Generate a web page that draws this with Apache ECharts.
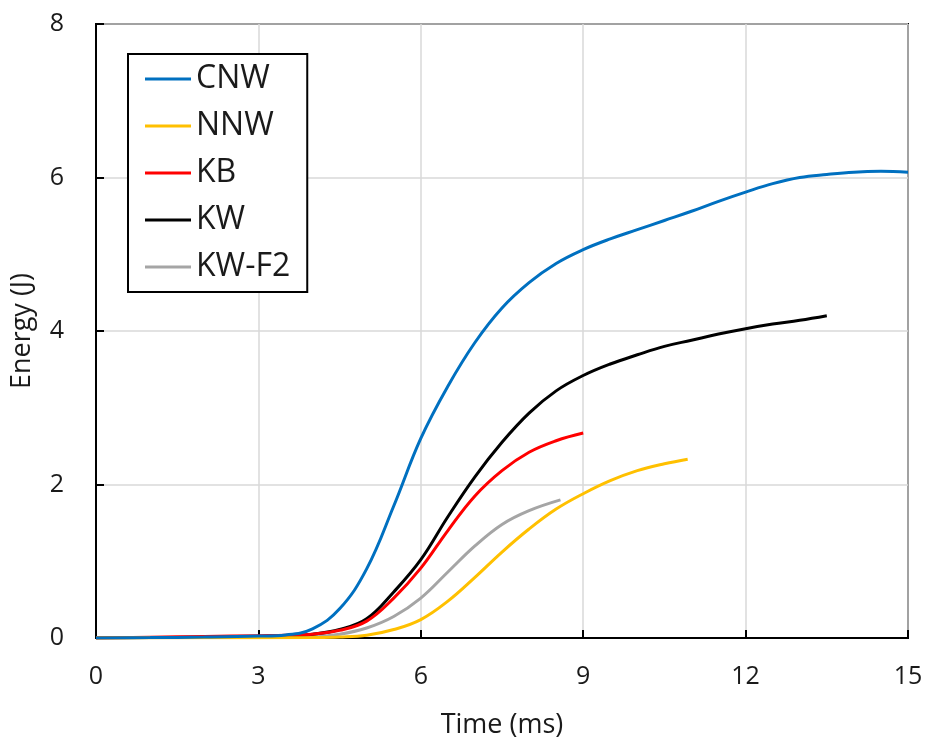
<!DOCTYPE html>
<html><head><meta charset="utf-8">
<script src="https://cdn.jsdelivr.net/npm/echarts@6/dist/echarts.min.js"></script>
<style>html,body{margin:0;padding:0;background:#fff}#c{width:927px;height:744px}</style>
</head><body><div id="c"></div>
<script>
const seriesNames = ['CNW','NNW','KB','KW','KW-F2'];
const seriesColors = ['#0070C0','#FFC000','#FF0000','#000000','#A5A5A5'];
const xTicks = [0,3,6,9,12,15];
const yTicks = [0,2,4,6,8];

const CNW = [[0,0],[1,0.005],[2,0.012],[3,0.025],[3.5,0.04],[4.0,0.12],[4.5,0.38],[5.0,0.9],[5.5,1.72],[6.0,2.6],[6.5,3.28],[7.0,3.85],[7.5,4.3],[8.0,4.63],[8.5,4.88],[9.0,5.06],[9.5,5.2],[10,5.32],[10.5,5.44],[11,5.56],[11.5,5.69],[12,5.81],[12.5,5.92],[13,6.0],[13.5,6.04],[14,6.07],[14.5,6.08],[15,6.07]];
const NNW = [[0,0],[2,0.003],[4,0.006],[4.5,0.012],[5.0,0.035],[5.5,0.11],[6.0,0.24],[6.5,0.48],[7.0,0.79],[7.5,1.12],[8.0,1.42],[8.5,1.68],[9.0,1.88],[9.5,2.05],[10,2.18],[10.5,2.27],[10.93,2.33]];
const KB = [[0,0],[1,0.01],[2,0.02],[3,0.03],[3.5,0.035],[4.0,0.05],[4.5,0.1],[5.0,0.22],[5.5,0.52],[6.0,0.91],[6.5,1.4],[7.0,1.85],[7.5,2.18],[8.0,2.42],[8.5,2.57],[9.0,2.67]];
const KW = [[0,0],[1,0.005],[2,0.01],[3,0.02],[3.5,0.03],[4.0,0.05],[4.5,0.11],[5.0,0.25],[5.5,0.6],[6.0,1.02],[6.5,1.58],[7.0,2.1],[7.5,2.55],[8.0,2.93],[8.5,3.22],[9.0,3.42],[9.5,3.57],[10,3.69],[10.5,3.8],[11,3.88],[11.5,3.96],[12,4.03],[12.5,4.09],[13,4.14],[13.5,4.2]];
const KWF2 = [[0,0],[3,0.01],[3.5,0.015],[4.0,0.02],[4.5,0.05],[5.0,0.13],[5.5,0.28],[6.0,0.52],[6.5,0.86],[7.0,1.2],[7.5,1.48],[8.0,1.66],[8.58,1.8]];

const seriesData = [CNW, NNW, KB, KW, KWF2];
const FONT = '"Open Sans", sans-serif';
const TXT = '#1a1a1a';

const chart = echarts.init(document.getElementById('c'), null, {renderer:'canvas'});
chart.setOption({
  animation:false,
  backgroundColor:'#fff',
  grid:{left:96,right:19,top:24,bottom:104,show:true,borderColor:'#000',borderWidth:2,backgroundColor:'transparent'},
  legend:{
    orient:'vertical', left:128, top:54,
    data:seriesNames,
    icon:'rect', itemWidth:46, itemHeight:3, itemGap:11,
    padding:[7,17,7,17],
    borderColor:'#000', borderWidth:2, backgroundColor:'#fff',
    textStyle:{fontFamily:FONT,fontSize:32,color:TXT,lineHeight:36}
  },
  xAxis:{
    type:'value', min:xTicks[0], max:xTicks[xTicks.length-1], interval:3,
    axisLine:{show:true,onZero:false,lineStyle:{color:'#000',width:2}},
    axisTick:{show:true,inside:true,length:8,lineStyle:{color:'#000',width:2}},
    axisLabel:{fontFamily:FONT,fontSize:25,color:TXT,margin:26},
    splitLine:{show:true,lineStyle:{color:'#d9d9d9',width:1.5}},
    name:'Time (ms)', nameLocation:'middle', nameGap:74,
    nameTextStyle:{fontFamily:FONT,fontSize:27,color:TXT}
  },
  yAxis:{
    type:'value', min:yTicks[0], max:yTicks[yTicks.length-1], interval:2,
    axisLine:{show:true,lineStyle:{color:'#000',width:2}},
    axisTick:{show:true,inside:true,length:8,lineStyle:{color:'#000',width:2}},
    axisLabel:{fontFamily:FONT,fontSize:25,color:TXT,margin:32},
    splitLine:{show:true,lineStyle:{color:'#d9d9d9',width:1.5}},
    name:'Energy (J)', nameLocation:'middle', nameGap:60,
    nameTextStyle:{fontFamily:FONT,fontSize:27,color:TXT}
  },
  series: seriesNames.map((n,i)=>({
    name:n, type:'line', data:seriesData[i], smooth:0.4, symbol:'none', showSymbol:false,
    lineStyle:{color:seriesColors[i],width:3}, itemStyle:{color:seriesColors[i]}, z:10-i
  }))
});
</script></body></html>
